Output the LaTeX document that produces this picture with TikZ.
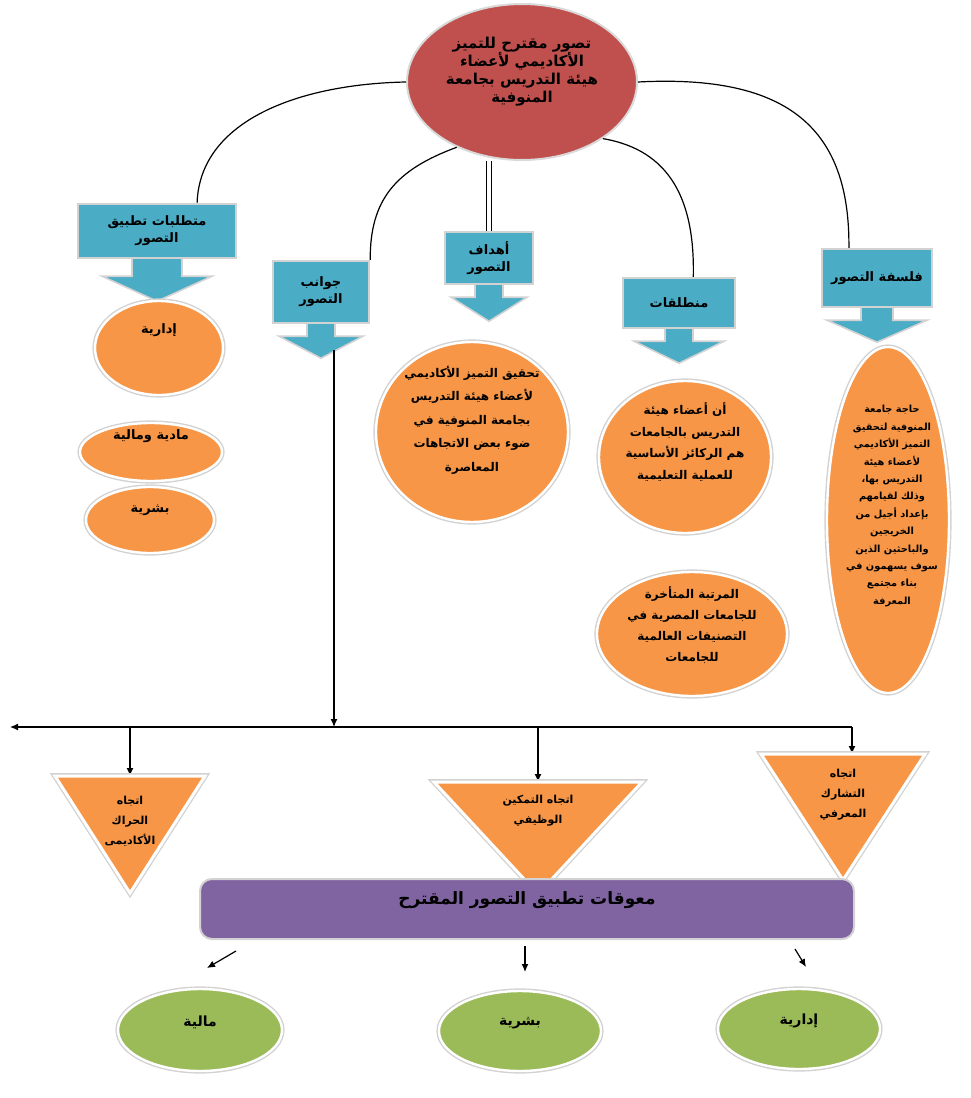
\documentclass[tikz,border=0pt]{standalone}
\usepackage{fontspec}
\usepackage{tikz}
\usetikzlibrary{shapes.geometric, arrows.meta, positioning, calc, backgrounds}
\newfontfamily\arabicfont[Script=Arabic]{DejaVu Sans}
\TeXXeTstate=1
\newcommand{\ar}[1]{\beginR #1\endR}
\newcommand{\tightlines}{\lineskiplimit -20pt\relax}
\definecolor{offred}{RGB}{192, 80, 77}
\definecolor{offorange}{RGB}{247, 150, 70}
\definecolor{offblue}{RGB}{75, 172, 198}
\definecolor{offpurple}{RGB}{128, 100, 162}
\definecolor{offgreen}{RGB}{155, 187, 89}

\begin{document}
\begin{tikzpicture}[
    x=0.5pt, y=-0.5pt,
    txt/.style 2 args={font=\arabicfont\bfseries\fontsize{#1}{#2}\selectfont\tightlines, align=center, inner sep=0pt},
    blob/.style={ellipse, fill=offorange, draw=white, line width=1.2pt, preaction={draw=gray!35, line width=2.6pt}, inner sep=0pt},
    gblob/.style={blob, fill=offgreen},
    callbox/.style={rectangle, draw=gray!35, line width=1.2pt, fill=offblue, inner sep=2pt, font=\arabicfont\bfseries\fontsize{6.5}{8.5}\selectfont, align=center},
    callarr/.style={fill=offblue, draw=gray!35, line width=0.8pt},
    tri/.style={fill=offorange, draw=white, line width=1.5pt, preaction={draw=gray!35, line width=2.8pt}},
    arr/.style={-{Latex[length=4pt, width=3.5pt]}, line width=0.6pt},
    link/.style={line width=0.6pt},
]
\useasboundingbox (0,0) rectangle (970,1098);

% Main idea (top)
\node[ellipse, fill=offred, draw=gray!30, line width=1pt, minimum width=115pt, minimum height=78pt] (main) at (522,82) {};
\node[txt={7.5}{9}] (main-t) at ($(main)+(0,-10)$) {\ar{تصور مقترح للتميز}\\\ar{الأكاديمي لأعضاء}\\\ar{هيئة التدريس بجامعة}\\\ar{المنوفية}};

% Callouts
\node[callbox, minimum width=79pt, minimum height=27pt] (req) at (157,231) {\ar{متطلبات تطبيق}\\\ar{التصور}};
\node[callbox, minimum width=48pt, minimum height=31pt] (asp) at (321,292) {\ar{جوانب}\\\ar{التصور}};
\node[callbox, minimum width=44pt, minimum height=26pt] (goal) at (489,258) {\ar{أهداف}\\\ar{التصور}};
\node[callbox, minimum width=56pt, minimum height=25pt] (start) at (679,303) {\ar{منطلقات}};
\node[callbox, minimum width=55pt, minimum height=29pt] (phil) at (877,278) {\ar{فلسفة التصور}};

\begin{scope}[on background layer]
\foreach \n/\s/\h/\la/\lb in {req/25/55/17/25, asp/14/42/12/22, goal/14/38/12/24, start/14/45/12/22, phil/16/50/12/22}
  \filldraw[callarr] ($(\n.south)+(-\s,-4)$) -- ($(\n.south)+(-\s,\la)$) -- ($(\n.south)+(-\h,\la)$) -- ($(\n.south)+(0,\la+\lb)$) -- ($(\n.south)+(\h,\la)$) -- ($(\n.south)+(\s,\la)$) -- ($(\n.south)+(\s,-4)$) -- cycle;
\end{scope}

\draw[link] (main.west) .. controls (300,84) and (200,120) .. ($(req.north)!0.5!(req.north east)$);
\draw[link] (main.225) .. controls (395,170) and (370,200) .. (asp.north east);
\draw[link] (main.east) .. controls (790,74) and (850,130) .. ($(phil.north west)!0.5!(phil.north)$);
\draw[link] (main.325) .. controls (670,150) and (695,200) .. ($(start.north)!0.25!(start.north east)$);
\draw[double, double distance=1.6pt, line width=0.5pt] (goal.north |- main.south) -- (goal.north);

% Requirements
\node[blob, minimum width=64pt, minimum height=47pt] (adm) at (159,348) {};
\node[txt={6.5}{8}] (adm-t) at ($(adm)+(0,-18)$) {\ar{إدارية}};
\node[blob, minimum width=71pt, minimum height=29pt] (mat) at (151,452) {};
\node[txt={6.5}{8}] (mat-t) at ($(mat)+(0,-16)$) {\ar{مادية ومالية}};
\node[blob, minimum width=64pt, minimum height=33pt] (hum) at (150,520) {};
\node[txt={6.5}{8}] (hum-t) at ($(hum)+(0,-10)$) {\ar{بشرية}};

% Goals
\node[blob, minimum width=96pt, minimum height=90pt] (aim) at (472,432) {};
\node[txt={6}{11.75}] (aim-t) at ($(aim)+(0,-12)$) {\ar{تحقيق التميز الأكاديمي}\\\ar{لأعضاء هيئة التدريس}\\\ar{بجامعة المنوفية في}\\\ar{ضوء بعض الاتجاهات}\\\ar{المعاصرة}};

% Starting points
\node[blob, minimum width=86pt, minimum height=76pt] (st1) at (685,457) {};
\node[txt={6}{10.75}] (st1-t) at ($(st1)+(0,-15)$) {\ar{أن أعضاء هيئة}\\\ar{التدريس بالجامعات}\\\ar{هم الركائز الأساسية}\\\ar{للعملية التعليمية}};
\node[blob, minimum width=95pt, minimum height=62pt] (st2) at (692,634) {};
\node[txt={6}{10.5}] (st2-t) at ($(st2)+(0,-9)$) {\ar{المرتبة المتأخرة}\\\ar{للجامعات المصرية في}\\\ar{التصنيفات العالمية}\\\ar{للجامعات}};

% Philosophy
\node[blob, minimum width=61pt, minimum height=173pt] (ph) at (888,520) {};
\node[txt={4.9}{8.7}] (ph-t) at ($(ph)+(4,-14)$) {\ar{حاجة جامعة}\\\ar{المنوفية لتحقيق}\\\ar{التميز الأكاديمي}\\\ar{لأعضاء هيئة}\\\ar{التدريس بها،}\\\ar{وذلك لقيامهم}\\\ar{بإعداد أجيل من}\\\ar{الخريجين}\\\ar{والباحثين الذين}\\\ar{سوف يسهمون في}\\\ar{بناء مجتمع}\\\ar{المعرفة}};

% Aspects: trends
\coordinate (hl) at (10,727);
\coordinate (hr) at (852,727);
\coordinate (aspv) at (334,350);
\coordinate (trL) at (130,776);
\coordinate (trM) at (538,782);
\coordinate (trR) at (843,754);

\draw[arr] (aspv) -- (aspv |- hl);
\draw[arr] (hr) -- (hl);
\draw[arr] (hl -| trL) -- (trL);
\draw[arr] (hl -| trM) -- (trM);
\draw[arr] (hr) -- (hr |- trR);

\filldraw[tri] ($(trL)+(-75,0)$) -- ($(trL)+(75,0)$) -- ($(trL)+(0,117)$) -- cycle;
\node[txt={5.5}{10}] (trL-t) at ($(trL)+(0,45)$) {\ar{اتجاه}\\\ar{الحراك}\\\ar{الأكاديمى}};
\filldraw[tri] ($(trM)+(-104,0)$) -- ($(trM)+(104,0)$) -- ($(trM)+(0,112)$) -- cycle;
\node[txt={5.5}{10}] (trM-t) at ($(trM)+(0,29)$) {\ar{اتجاه التمكين}\\\ar{الوظيفي}};
\filldraw[tri] ($(trR)+(-82,0)$) -- ($(trR)+(82,0)$) -- ($(trR)+(0,126)$) -- cycle;
\node[txt={5.5}{10}] (trR-t) at ($(trR)+(0,41)$) {\ar{اتجاه}\\\ar{التشارك}\\\ar{المعرفي}};

% Obstacles (bottom)
\node[rectangle, rounded corners=6pt, fill=offpurple, draw=gray!35, line width=1pt, minimum width=327pt, minimum height=30pt] (obst) at (527,909) {};
\node[txt={8.5}{10}] (obst-t) at ($(obst)+(0,-9)$) {\ar{معوقات تطبيق التصور المقترح}};

\node[gblob, minimum width=82pt, minimum height=41pt] (fin) at (200,1030) {};
\node[txt={7}{9}] (fin-t) at ($(fin)+(0,-8)$) {\ar{مالية}};
\node[gblob, minimum width=81pt, minimum height=40pt] (hum2) at (520,1031) {};
\node[txt={7}{9}] (hum2-t) at ($(hum2)+(0,-8)$) {\ar{بشرية}};
\node[gblob, minimum width=81pt, minimum height=40pt] (adm2) at (799,1029) {};
\node[txt={7}{9}] (adm2-t) at ($(adm2)+(0,-8)$) {\ar{إدارية}};

\coordinate (ob1) at (236,951);
\coordinate (ob1e) at (207,968);
\coordinate (ob2) at (525,946);
\coordinate (ob2e) at (525,972);
\coordinate (ob3) at (795,949);
\coordinate (ob3e) at (806,967);
\draw[arr] (ob1) -- (ob1e);
\draw[arr] (ob2) -- (ob2e);
\draw[arr] (ob3) -- (ob3e);

\end{tikzpicture}
\end{document}
